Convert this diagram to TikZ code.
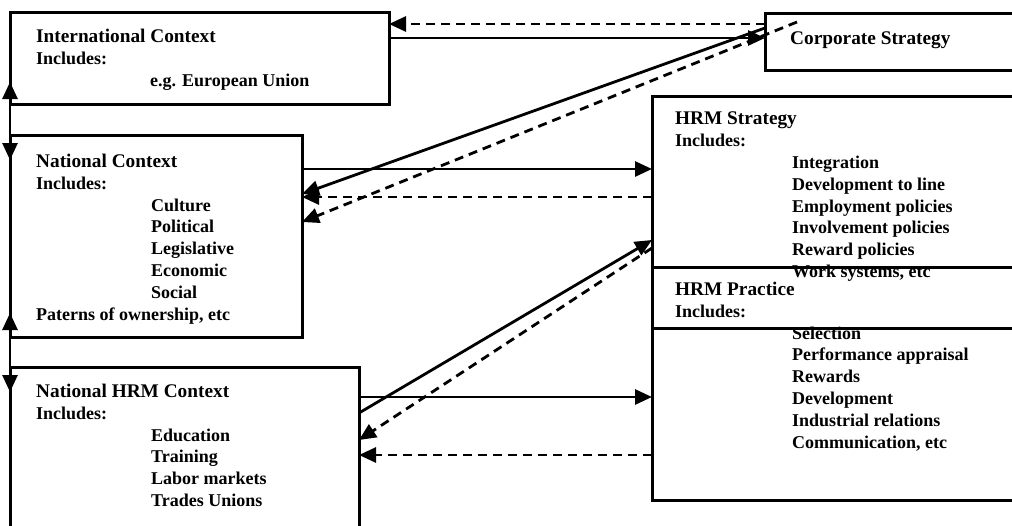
\documentclass[tikz,border=0pt]{standalone}
\usepackage{fontspec}
\setmainfont{Liberation Serif}
\usetikzlibrary{arrows.meta}
\newcommand{\boxtitle}[1]{{\fontsize{19.3}{21.8}\selectfont #1}}
\begin{document}
\begin{tikzpicture}[x=1pt, y=-1pt,
    box/.style={draw, line width=3pt, anchor=north west, inner sep=0pt, outer sep=0pt},
    txt/.style={anchor=north west, align=left, inner sep=0pt, font=\fontsize{18}{21.8}\selectfont\bfseries},
    solidarr/.style={line width=2.8pt, -{Triangle[length=17pt,width=15pt]}},
    dasharr/.style={solidarr, dash pattern=on 9pt off 6pt}]
    \useasboundingbox (0,0) rectangle (1012,525);
    \clip (0,0) rectangle (1012,525);
    % boxes
    \node[box, minimum width=379pt, minimum height=92pt] (intl) at (10,12) {};
    \node[box, minimum width=292pt, minimum height=202pt] (nat) at (10,135) {};
    \node[box, minimum width=349pt, minimum height=200pt] (nhrm) at (10,367) {};
    \node[box, minimum width=300pt, minimum height=57pt] (corp) at (765,13) {};
    \node[box, minimum width=400pt, minimum height=232pt] (hrms) at (652,96) {};
    \node[box, minimum width=400pt, minimum height=233pt] (hrmp) at (652,267) {};
    % texts
    \node[txt] (intltxt) at ([shift={(26pt,-17pt)}]intl.north west)
        {\boxtitle{International Context}\\Includes:\\\hspace*{114pt}e.g. European Union};
    \node[txt] (nattxt) at ([shift={(26pt,-19pt)}]nat.north west)
        {\boxtitle{National Context}\\Includes:\\\hspace*{115pt}Culture\\\hspace*{115pt}Political\\
         \hspace*{115pt}Legislative\\\hspace*{115pt}Economic\\\hspace*{115pt}Social\\Paterns of ownership, etc};
    \node[txt] (nhrmtxt) at ([shift={(26pt,-17pt)}]nhrm.north west)
        {\boxtitle{National HRM Context}\\Includes:\\\hspace*{115pt}Education\\\hspace*{115pt}Training\\
         \hspace*{115pt}Labor markets\\\hspace*{115pt}Trades Unions};
    \node[txt] (corptxt) at ([shift={(25pt,-19pt)}]corp.north west) {\boxtitle{Corporate Strategy}};
    \node[txt] (hrmstxt) at ([shift={(23pt,-16pt)}]hrms.north west)
        {\boxtitle{HRM Strategy}\\Includes:\\\hspace*{117pt}Integration\\\hspace*{117pt}Development to line\\
         \hspace*{117pt}Employment policies\\\hspace*{117pt}Involvement policies\\
         \hspace*{117pt}Reward policies\\\hspace*{117pt}Work systems, etc};
    \node[txt] (hrmptxt) at ([shift={(23pt,-15pt)}]hrmp.north west)
        {\boxtitle{HRM Practice}\\Includes:\\\hspace*{117pt}Selection\\\hspace*{117pt}Performance appraisal\\
         \hspace*{117pt}Rewards\\\hspace*{117pt}Development\\\hspace*{117pt}Industrial relations\\
         \hspace*{117pt}Communication, etc};
    % left side links
    \draw[solidarr] (nat.north west) -- ([yshift=22pt]intl.south west);
    \draw[solidarr] (intl.south west) -- ([yshift=-25pt]nat.north west);
    \draw[solidarr] (nhrm.north west) -- ([yshift=24pt]nat.south west);
    \draw[solidarr] (nat.south west) -- ([yshift=-25pt]nhrm.north west);
    % corporate strategy links
    \draw[dasharr] ([yshift=-11pt]corp.north west) -- ([yshift=-12pt]intl.north east);
    \draw[solidarr] ([yshift=-26pt]intl.north east) -- ([yshift=-25pt]corp.north west);
    \draw[solidarr, {Triangle[length=17pt,width=15pt]}-] ([yshift=-59pt]nat.north east) -- ([yshift=-15pt]corp.north west);
    \draw[dasharr] ([shift={(32pt,-9pt)}]corp.north west) -- ([yshift=-87pt]nat.north east);
    % hrm strategy links
    \draw[solidarr] ([yshift=-34pt]nat.north east) -- ([yshift=-73pt]hrms.north west);
    \draw[dasharr] ([yshift=-101pt]hrms.north west) -- ([yshift=-62pt]nat.north east);
    \draw[solidarr] ([yshift=-46pt]nhrm.north east) -- ([yshift=-144pt]hrms.north west);
    \draw[dasharr] ([yshift=-152pt]hrms.north west) -- ([yshift=-73pt]nhrm.north east);
    % hrm practice links
    \draw[solidarr] ([yshift=-30pt]nhrm.north east) -- ([yshift=-130pt]hrmp.north west);
    \draw[dasharr] ([yshift=-188pt]hrmp.north west) -- ([yshift=-88pt]nhrm.north east);
\end{tikzpicture}
\end{document}
